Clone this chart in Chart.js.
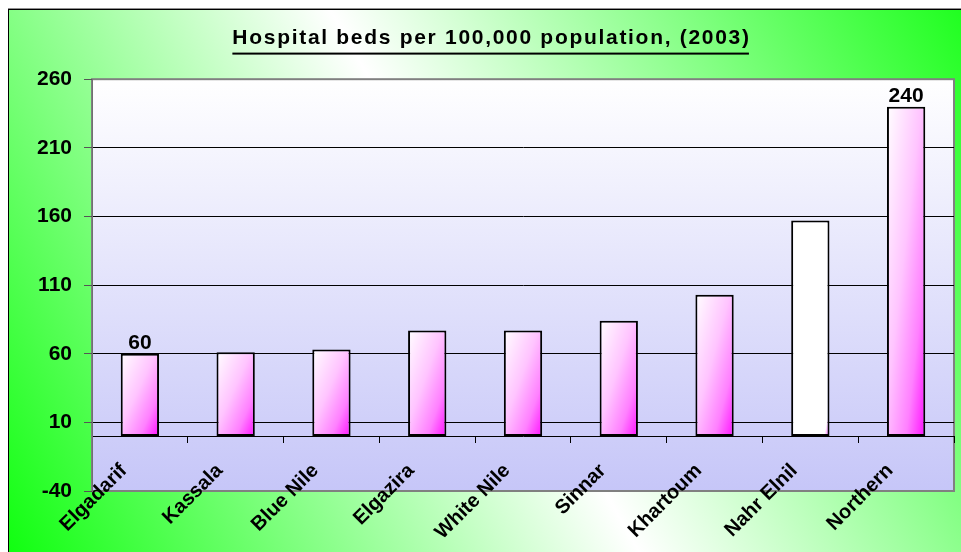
<!DOCTYPE html>
<html>
<head>
<meta charset="utf-8">
<script src="https://cdn.jsdelivr.net/npm/chart.js@4/dist/chart.umd.min.js"></script>
<style>
  html, body { margin: 0; padding: 0; background: #ffffff; }
  #c { display: block; }
</style>
</head>
<body>
<canvas id="c" width="961" height="552"></canvas>
<script>
// ---- data ----
const categories = ['Elgadarif', 'Kassala', 'Blue Nile', 'Elgazira', 'White Nile', 'Sinnar', 'Khartoum', 'Nahr Elnil', 'Northern'];
const bedsPer100k = [60, 61, 63, 77, 77, 84, 103, 157, 240];
const yTickValues = [-40, 10, 60, 110, 160, 210, 260];
const labelledBars = [0, 8];
const titleText = 'Hospital beds per 100,000 population, (2003)';

// ---- styles ----
const FONT = "'Liberation Sans', Arial, sans-serif";
const whiteFillIndex = 7;
const BAR_PCT = 0.4;
const TITLE_SPACING = 1.7;

function barFill(c) {
  const chart = c.chart;
  const xs = chart.scales && chart.scales.x, ys = chart.scales && chart.scales.y;
  if (c.dataIndex === undefined || !xs || !ys || !chart.chartArea) return '#ff80ff';
  const i = c.dataIndex, v = c.raw;
  const cx = xs.getPixelForValue(i);
  const w = (xs.width / categories.length) * BAR_PCT;
  const top = ys.getPixelForValue(v), bot = ys.getPixelForValue(0);
  const left = cx - w / 2, h = Math.max(1, bot - top);
  const gx = 1 / (2 * w), gy = 1 / (2 * h), g2 = gx * gx + gy * gy;
  const grad = chart.ctx.createLinearGradient(left, top, left + gx / g2, top + gy / g2);
  if (i === whiteFillIndex) {
    grad.addColorStop(0, '#ffffff');
    grad.addColorStop(0.93, '#ffffff');
    grad.addColorStop(1, '#ff30ff');
  } else {
    grad.addColorStop(0, '#ffffff');
    grad.addColorStop(0.45, '#ffc4ff');
    grad.addColorStop(0.75, '#ff80ff');
    grad.addColorStop(1, '#ff10ff');
  }
  return grad;
}

const backgroundPlugin = {
  id: 'bg',
  beforeDraw(chart) {
    const ctx = chart.ctx, W = chart.width, H = chart.height;
    ctx.save();
    ctx.fillStyle = '#ffffff';
    ctx.fillRect(0, 0, W, H);
    const g = ctx.createLinearGradient(8, H, W, 9);
    g.addColorStop(0, '#10ff10');
    g.addColorStop(0.5, '#ffffff');
    g.addColorStop(1, '#20ff20');
    ctx.fillStyle = g;
    ctx.fillRect(8, 9, W - 8, H - 9);
    ctx.fillStyle = '#909090';
    ctx.fillRect(8, 8, W - 8, 1);
    ctx.fillStyle = '#000000';
    ctx.fillRect(8, 9, W - 8, 1);
    ctx.fillRect(8, 9, 1, H - 9);
    const a = chart.chartArea;
    const pg = ctx.createLinearGradient(0, a.top, 0, a.bottom);
    pg.addColorStop(0, '#ffffff');
    pg.addColorStop(1, '#c6c6f8');
    ctx.fillStyle = pg;
    ctx.fillRect(a.left, a.top, a.right - a.left, a.bottom - a.top);
    ctx.strokeStyle = '#808080';
    ctx.lineWidth = 2;
    ctx.strokeRect(a.left, a.top, a.right - a.left, a.bottom - a.top);
    ctx.restore();
  }
};

const titleDecorPlugin = {
  id: 'titleDecor',
  afterLayout(chart) {
    const tb = chart.titleBlock;
    if (!tb || tb._decorated) return;
    const orig = tb.draw.bind(tb);
    tb.draw = function (area) {
      const ctx = chart.ctx;
      ctx.save();
      ctx.letterSpacing = TITLE_SPACING + 'px';
      orig(area);
      const f = tb.options.font;
      ctx.font = 'bold ' + f.size + 'px ' + FONT;
      const w = ctx.measureText(titleText).width - TITLE_SPACING;
      const cx = (tb.left + tb.right) / 2 - TITLE_SPACING / 2;
      const y = tb.top + tb.options.padding.top + f.size * 0.6 + 14;
      ctx.fillStyle = '#000000';
      ctx.fillRect(cx - w / 2, y, w, 2);
      ctx.restore();
    };
    tb._decorated = true;
  }
};

const valueLabelPlugin = {
  id: 'valueLabels',
  afterDatasetsDraw(chart) {
    const ctx = chart.ctx;
    const meta = chart.getDatasetMeta(0);
    ctx.save();
    ctx.font = 'bold 21px ' + FONT;
    ctx.fillStyle = '#000000';
    ctx.textAlign = 'center';
    ctx.textBaseline = 'alphabetic';
    labelledBars.forEach(i => {
      const el = meta.data[i];
      ctx.fillText(String(bedsPer100k[i]), el.x, el.y - 5);
    });
    ctx.restore();
  }
};

new Chart(document.getElementById('c'), {
  type: 'bar',
  data: {
    labels: categories,
    datasets: [{
      data: bedsPer100k,
      backgroundColor: barFill,
      borderColor: '#000000',
      borderWidth: 2,
      borderSkipped: false,
      barPercentage: BAR_PCT,
      categoryPercentage: 1
    }]
  },
  options: {
    responsive: false,
    animation: false,
    devicePixelRatio: 1,
    layout: { padding: { left: 29, right: 7, top: 0, bottom: 61 } },
    plugins: {
      legend: { display: false },
      tooltip: { enabled: false },
      title: {
        display: true,
        text: titleText,
        color: '#000000',
        font: { family: FONT, size: 21, weight: 'bold' },
        padding: { top: 26, bottom: 28 }
      }
    },
    scales: {
      x: {
        position: { y: 0 },
        grid: { drawOnChartArea: false, drawTicks: true, tickLength: 6, color: '#000000', offset: true },
        border: { display: true, color: '#000000', width: 1 },
        ticks: {
          autoSkip: false, minRotation: 45, maxRotation: 45,
          color: '#000000', padding: 17, labelOffset: -16,
          font: { family: FONT, size: 20, weight: 'bold' }
        }
      },
      y: {
        min: -40, max: 260,
        afterBuildTicks(scale) { scale.ticks = yTickValues.map(v => ({ value: v })); },
        afterFit(scale) { scale.width = 63; },
        grid: {
          color: c => (c.tick && (c.tick.value === -40 || c.tick.value === 260)) ? 'rgba(0,0,0,0)' : '#000000',
          tickColor: '#555555',
          tickLength: 8,
          lineWidth: 1
        },
        border: { display: true, color: '#707070', width: 1 },
        ticks: {
          color: '#000000', padding: 12,
          font: { family: FONT, size: 21, weight: 'bold' }
        }
      }
    }
  },
  plugins: [backgroundPlugin, titleDecorPlugin, valueLabelPlugin]
});
</script>
</body>
</html>
